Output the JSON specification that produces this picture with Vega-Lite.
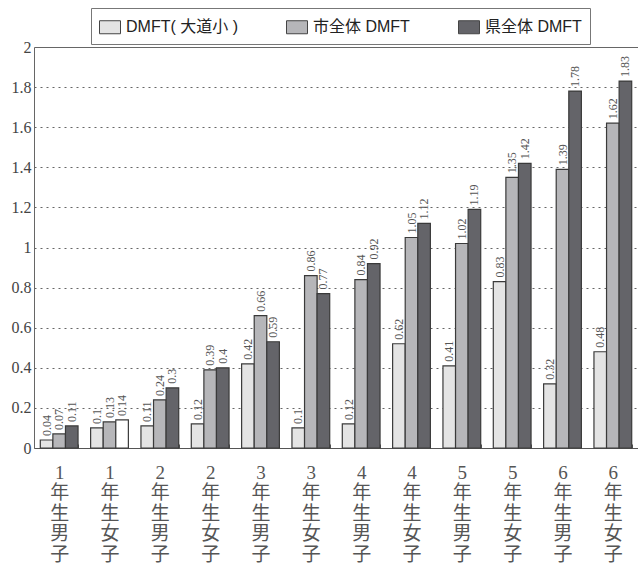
{
  "$schema": "https://vega.github.io/schema/vega-lite/v6.json",
  "autosize": {"type": "none"},
  "padding": {"left": 34, "top": 47, "right": 0, "bottom": 118},
  "width": 604,
  "height": 401,
  "config": {
    "view": {"stroke": null},
    "font": "Liberation Serif"
  },
  "data": {
    "values": [
      {"grade": "1年生男子", "series": "DMFT( 大道小 )", "value": 0.04, "label": "0.04"},
      {"grade": "1年生男子", "series": "市全体 DMFT", "value": 0.07, "label": "0.07"},
      {"grade": "1年生男子", "series": "県全体 DMFT", "value": 0.11, "label": "0.11"},
      {"grade": "1年生女子", "series": "DMFT( 大道小 )", "value": 0.1, "label": "0.1"},
      {"grade": "1年生女子", "series": "市全体 DMFT", "value": 0.13, "label": "0.13"},
      {"grade": "1年生女子", "series": "県全体 DMFT", "value": 0.14, "label": "0.14"},
      {"grade": "2年生男子", "series": "DMFT( 大道小 )", "value": 0.11, "label": "0.11"},
      {"grade": "2年生男子", "series": "市全体 DMFT", "value": 0.24, "label": "0.24"},
      {"grade": "2年生男子", "series": "県全体 DMFT", "value": 0.3, "label": "0.3"},
      {"grade": "2年生女子", "series": "DMFT( 大道小 )", "value": 0.12, "label": "0.12"},
      {"grade": "2年生女子", "series": "市全体 DMFT", "value": 0.39, "label": "0.39"},
      {"grade": "2年生女子", "series": "県全体 DMFT", "value": 0.4, "label": "0.4"},
      {"grade": "3年生男子", "series": "DMFT( 大道小 )", "value": 0.42, "label": "0.42"},
      {"grade": "3年生男子", "series": "市全体 DMFT", "value": 0.66, "label": "0.66"},
      {"grade": "3年生男子", "series": "県全体 DMFT", "value": 0.53, "label": "0.59"},
      {"grade": "3年生女子", "series": "DMFT( 大道小 )", "value": 0.1, "label": "0.1"},
      {"grade": "3年生女子", "series": "市全体 DMFT", "value": 0.86, "label": "0.86"},
      {"grade": "3年生女子", "series": "県全体 DMFT", "value": 0.77, "label": "0.77"},
      {"grade": "4年生男子", "series": "DMFT( 大道小 )", "value": 0.12, "label": "0.12"},
      {"grade": "4年生男子", "series": "市全体 DMFT", "value": 0.84, "label": "0.84"},
      {"grade": "4年生男子", "series": "県全体 DMFT", "value": 0.92, "label": "0.92"},
      {"grade": "4年生女子", "series": "DMFT( 大道小 )", "value": 0.52, "label": "0.62"},
      {"grade": "4年生女子", "series": "市全体 DMFT", "value": 1.05, "label": "1.05"},
      {"grade": "4年生女子", "series": "県全体 DMFT", "value": 1.12, "label": "1.12"},
      {"grade": "5年生男子", "series": "DMFT( 大道小 )", "value": 0.41, "label": "0.41"},
      {"grade": "5年生男子", "series": "市全体 DMFT", "value": 1.02, "label": "1.02"},
      {"grade": "5年生男子", "series": "県全体 DMFT", "value": 1.19, "label": "1.19"},
      {"grade": "5年生女子", "series": "DMFT( 大道小 )", "value": 0.83, "label": "0.83"},
      {"grade": "5年生女子", "series": "市全体 DMFT", "value": 1.35, "label": "1.35"},
      {"grade": "5年生女子", "series": "県全体 DMFT", "value": 1.42, "label": "1.42"},
      {"grade": "6年生男子", "series": "DMFT( 大道小 )", "value": 0.32, "label": "0.32"},
      {"grade": "6年生男子", "series": "市全体 DMFT", "value": 1.39, "label": "1.39"},
      {"grade": "6年生男子", "series": "県全体 DMFT", "value": 1.78, "label": "1.78"},
      {"grade": "6年生女子", "series": "DMFT( 大道小 )", "value": 0.48, "label": "0.48"},
      {"grade": "6年生女子", "series": "市全体 DMFT", "value": 1.62, "label": "1.62"},
      {"grade": "6年生女子", "series": "県全体 DMFT", "value": 1.83, "label": "1.83"}
    ]
  },
  "encoding": {
    "x": {
      "field": "grade",
      "type": "nominal",
      "sort": null,
      "scale": {"paddingInner": 0.25, "paddingOuter": 0.125},
      "axis": {
        "title": null,
        "labelAngle": 0,
        "labelExpr": "split(datum.label, '')",
        "labelFont": "Liberation Serif, Noto Sans CJK JP",
        "labelFontSize": 19,
        "labelLineHeight": 20.5,
        "labelColor": "#555",
        "labelBaseline": "top",
        "labelPadding": 19,
        "tickBand": "extent",
        "tickSize": -4,
        "tickColor": "#555",
        "domainColor": "#555",
        "labelFlush": false,
        "labelOverlap": false
      }
    },
    "xOffset": {
      "field": "series",
      "type": "nominal",
      "sort": ["DMFT( 大道小 )", "市全体 DMFT", "県全体 DMFT"]
    },
    "y": {
      "field": "value",
      "type": "quantitative",
      "scale": {"domain": [0, 2], "nice": false},
      "axis": {
        "title": null,
        "values": [0, 0.2, 0.4, 0.6, 0.8, 1, 1.2, 1.4, 1.6, 1.8, 2],
        "format": ".1~f",
        "labelFontSize": 16,
        "labelColor": "#444",
        "labelFont": "Liberation Serif",
        "labelPadding": 3,
        "ticks": false,
        "domainColor": "#666",
        "gridColor": "#666",
        "gridDash": {"condition": {"test": "datum.value >= 2", "value": []}, "value": [2, 4]},
        "gridWidth": 1
      }
    }
  },
  "layer": [
    {
      "mark": {"type": "bar", "stroke": "#3a3a3a", "strokeWidth": 1.2},
      "encoding": {
        "color": {
          "condition": {"test": "datum.grade == '1年生女子' && datum.series == '県全体 DMFT'", "value": "#ffffff"},
          "field": "series",
          "type": "nominal",
          "sort": ["DMFT( 大道小 )", "市全体 DMFT", "県全体 DMFT"],
          "scale": {"range": ["#e4e4e4", "#b6b6b9", "#646469"]},
          "legend": {
            "title": null,
            "orient": "none",
            "legendX": 57,
            "legendY": -39,
            "direction": "horizontal",
            "strokeColor": "#777",
            "padding": 8,
            "labelFont": "Liberation Sans, Noto Sans CJK JP",
            "labelFontSize": 16,
            "labelColor": "#222",
            "symbolType": "M-1,-0.62H1V0.62H-1Z",
            "symbolSize": 441,
            "symbolStrokeColor": "#444",
            "symbolStrokeWidth": 1,
            "symbolOpacity": 1,
            "labelOffset": 5,
            "columnPadding": 46,
            "labelLimit": 300
          }
        }
      }
    },
    {
      "mark": {
        "type": "text",
        "angle": 270,
        "align": "left",
        "baseline": "middle",
        "dx": 4,
        "fontSize": 12,
        "font": "Liberation Serif",
        "color": "#555"
      },
      "encoding": {
        "text": {"field": "label"}
      }
    }
  ]
}
